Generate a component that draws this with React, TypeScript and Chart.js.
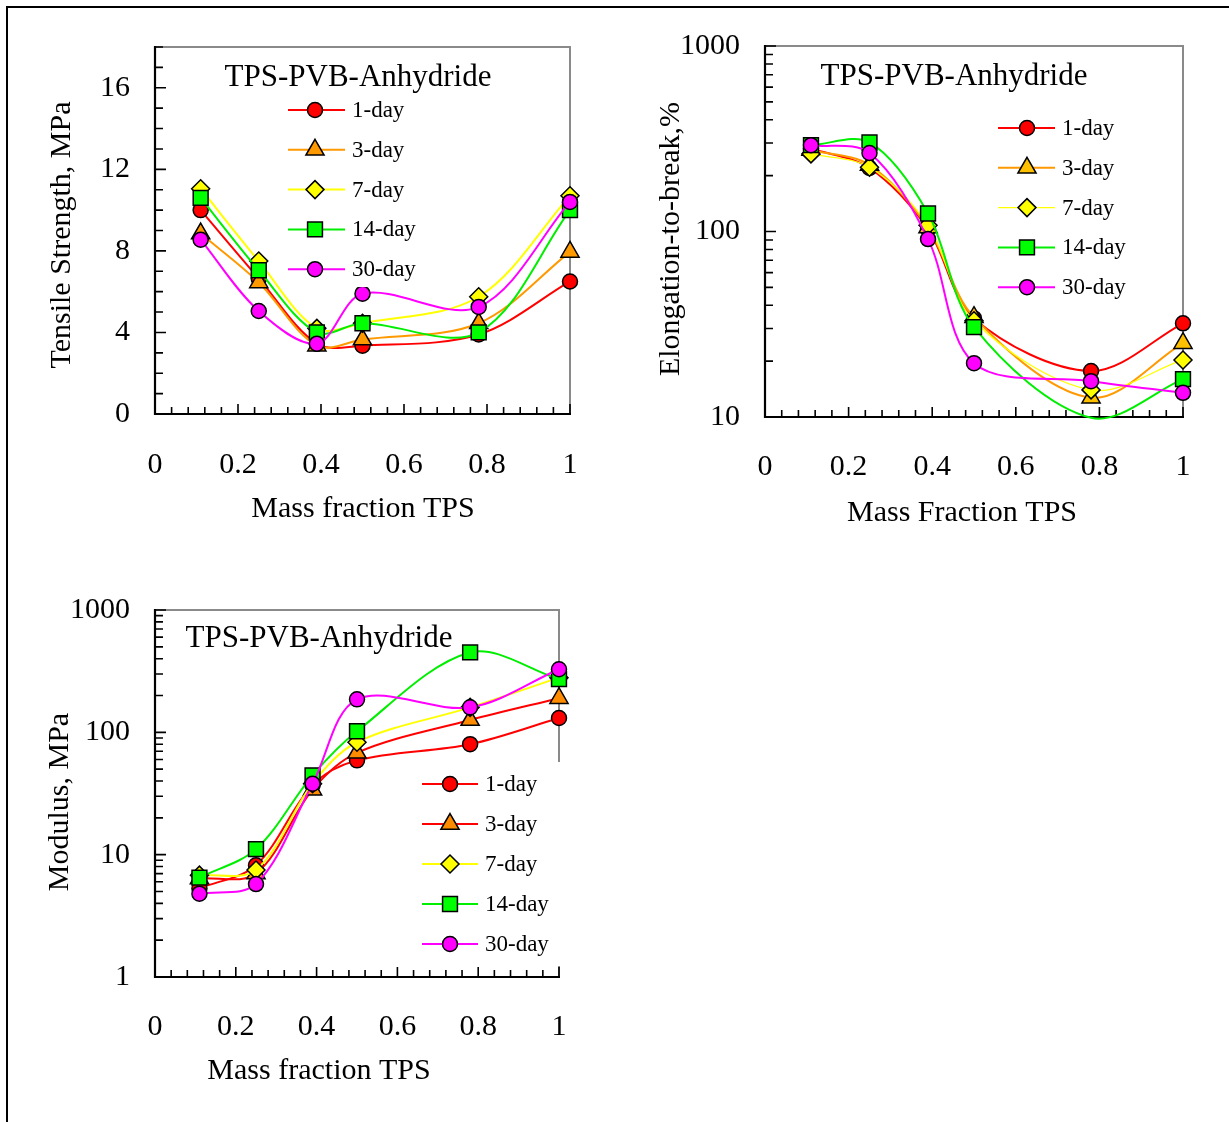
import React, { useEffect, useRef } from 'react';
import { Chart, registerables } from 'chart.js';

Chart.register(...registerables);

// ---- data -----------------------------------------------------------------
const MASS_FRACTION = [0.11, 0.25, 0.39, 0.5, 0.78, 1.0];
const SERIES_LABELS = ['1-day', '3-day', '7-day', '14-day', '30-day'];
const X_TICK_STEP = 0.2;
const X_MINOR_DIVISIONS = 25; // minor tick every 0.04
const LOG_TICK_LABELS = [1, 10, 100, 1000];

// Tensile strength, MPa
const TENSILE_1D = [10.0, 6.65, 3.45, 3.35, 3.9, 6.5];
const TENSILE_3D = [8.85, 6.45, 3.35, 3.65, 4.45, 7.95];
const TENSILE_7D = [11.05, 7.5, 4.2, 4.45, 5.75, 10.7];
const TENSILE_14D = [10.6, 7.05, 4.0, 4.45, 4.0, 10.0];
const TENSILE_30D = [8.55, 5.05, 3.45, 5.9, 5.25, 10.4];

// Elongation-to-break, %
const ELONG_1D = [280, 220, 103, 34, 17.7, 32];
const ELONG_3D = [275, 228, 105, 34.5, 12.7, 25];
const ELONG_7D = [262, 222, 108, 33, 14.0, 20.3];
const ELONG_14D = [292, 302, 125, 30.5, 9.9, 16];
const ELONG_30D = [292, 265, 91, 19.5, 15.6, 13.5];

// Modulus, MPa
const MODULUS_1D = [5.3, 8.2, 37, 59, 80, 131];
const MODULUS_3D = [6.4, 7.0, 34, 68, 126, 190];
const MODULUS_7D = [6.8, 7.5, 38, 83, 160, 280];
const MODULUS_14D = [6.5, 11.1, 44.5, 102, 450, 272];
const MODULUS_30D = [4.8, 5.75, 38, 186, 160, 328];

// ---- styling ----------------------------------------------------------------
const FONT = "'Liberation Serif', 'Times New Roman', serif";
const MARKER_STYLES = ['circle', 'triangle', 'rectRot', 'rect', 'circle'];
const MARKER_RADII = [7.5, 10.5, 9, 10.5, 7.5];

type Box = { left: number; top: number; width: number; height: number };
type Area = { left: number; top: number; right: number; bottom: number };

interface PanelSpec {
  box: Box; // canvas placement on the page
  area: Area; // plot area on the page
  logY: boolean;
  yMin: number;
  yMax: number;
  yStep: number;
  yMinorStep: number;
  series: number[][];
  lineColors: string[];
  fillColors: string[];
  lineWidths: number[];
  title: { text: string; x: number; y: number };
  legend: { x0: number; x1: number; mx: number; tx: number; y0: number; dy: number; cover?: Box };
  xTitle: { text: string; x: number; y: number };
  yTitle: { text: string; x: number; y: number };
  xTickPad: number;
}

const PANELS: PanelSpec[] = [
  {
    box: { left: 0, top: 0, width: 610, height: 560 },
    area: { left: 155, top: 47, right: 570, bottom: 414 },
    logY: false,
    yMin: 0,
    yMax: 18,
    yStep: 4,
    yMinorStep: 1,
    series: [TENSILE_1D, TENSILE_3D, TENSILE_7D, TENSILE_14D, TENSILE_30D],
    lineColors: ['#ff0000', '#ff9900', '#ffff00', '#00ee00', '#ff00ff'],
    fillColors: ['#ff0000', '#ff9900', '#ffff00', '#00ff00', '#ff00ff'],
    lineWidths: [2, 2, 2, 2, 2],
    title: { text: 'TPS-PVB-Anhydride', x: 358, y: 78 },
    legend: { x0: 288, x1: 345, mx: 315, tx: 352, y0: 110, dy: 39.8, cover: { left: 282, top: 94, width: 130, height: 193 } },
    xTitle: { text: 'Mass fraction TPS', x: 363, y: 509 },
    yTitle: { text: 'Tensile Strength, MPa', x: 62, y: 235 },
    xTickPad: 31,
  },
  {
    box: { left: 610, top: 0, width: 619, height: 560 },
    area: { left: 765, top: 46, right: 1183, bottom: 417 },
    logY: true,
    yMin: 10,
    yMax: 1000,
    yStep: 10,
    yMinorStep: 1,
    series: [ELONG_1D, ELONG_3D, ELONG_7D, ELONG_14D, ELONG_30D],
    lineColors: ['#ff0000', '#ff9900', '#ffff00', '#00ee00', '#ff00ff'],
    fillColors: ['#ff0000', '#ffc000', '#ffff00', '#00ff00', '#ff00ff'],
    lineWidths: [2, 2, 1.3, 2, 2],
    title: { text: 'TPS-PVB-Anhydride', x: 954, y: 77 },
    legend: { x0: 998, x1: 1055, mx: 1027, tx: 1062, y0: 128, dy: 39.8 },
    xTitle: { text: 'Mass Fraction TPS', x: 962, y: 513 },
    yTitle: { text: 'Elongation-to-break,%', x: 671, y: 239 },
    xTickPad: 30,
  },
  {
    box: { left: 0, top: 560, width: 610, height: 562 },
    area: { left: 155, top: 610, right: 559, bottom: 977 },
    logY: true,
    yMin: 1,
    yMax: 1000,
    yStep: 10,
    yMinorStep: 1,
    series: [MODULUS_1D, MODULUS_3D, MODULUS_7D, MODULUS_14D, MODULUS_30D],
    lineColors: ['#ff0000', '#ff0000', '#ffff00', '#00ee00', '#ff00ff'],
    fillColors: ['#ff0000', '#ff8c00', '#ffff00', '#00ff00', '#ff00ff'],
    lineWidths: [2, 2, 2, 2, 2],
    title: { text: 'TPS-PVB-Anhydride', x: 319, y: 639 },
    legend: { x0: 422, x1: 478, mx: 450, tx: 485, y0: 784, dy: 40, cover: { left: 415, top: 762, width: 152, height: 204 } },
    xTitle: { text: 'Mass fraction TPS', x: 319, y: 1071 },
    yTitle: { text: 'Modulus, MPa', x: 60, y: 802 },
    xTickPad: 30,
  },
];

// ---- drawing helpers ---------------------------------------------------------
function markerPath(ctx: CanvasRenderingContext2D, style: string, x: number, y: number, r: number) {
  ctx.beginPath();
  if (style === 'circle') {
    ctx.arc(x, y, r, 0, Math.PI * 2);
  } else if (style === 'triangle') {
    ctx.moveTo(x, y - r);
    ctx.lineTo(x + r * Math.sin((2 * Math.PI) / 3), y + r * 0.5);
    ctx.lineTo(x - r * Math.sin((2 * Math.PI) / 3), y + r * 0.5);
  } else if (style === 'rectRot') {
    ctx.moveTo(x - r, y);
    ctx.lineTo(x, y - r);
    ctx.lineTo(x + r, y);
    ctx.lineTo(x, y + r);
  } else {
    const s = Math.SQRT1_2 * r;
    ctx.rect(x - s, y - s, 2 * s, 2 * s);
  }
  ctx.closePath();
}

function yTickValues(p: PanelSpec): { v: number; major: boolean }[] {
  const out: { v: number; major: boolean }[] = [];
  if (p.logY) {
    const e0 = Math.round(Math.log10(p.yMin));
    const e1 = Math.round(Math.log10(p.yMax));
    for (let e = e0; e < e1; e++) {
      for (let m = 1; m <= 9; m++) out.push({ v: m * Math.pow(10, e), major: m === 1 });
    }
    out.push({ v: p.yMax, major: true });
  } else {
    const n = Math.round((p.yMax - p.yMin) / p.yMinorStep);
    const every = Math.round(p.yStep / p.yMinorStep);
    for (let k = 0; k <= n; k++) out.push({ v: p.yMin + k * p.yMinorStep, major: k % every === 0 });
  }
  return out;
}

function makeDecor(p: PanelSpec) {
  const ox = p.box.left;
  const oy = p.box.top;
  return {
    id: 'panelDecor',
    beforeDatasetsDraw(chart: any) {
      const { ctx, chartArea: a, scales } = chart;
      ctx.save();
      // top and right frame
      ctx.strokeStyle = '#8a8a8a';
      ctx.lineWidth = 2;
      ctx.beginPath();
      ctx.moveTo(a.left, a.top);
      ctx.lineTo(a.right, a.top);
      ctx.lineTo(a.right, a.bottom);
      ctx.stroke();
      // inward tick marks
      ctx.strokeStyle = '#000';
      ctx.lineWidth = 1.6;
      ctx.beginPath();
      for (let k = 0; k <= X_MINOR_DIVISIONS; k++) {
        const px = scales.x.getPixelForValue(k / X_MINOR_DIVISIONS);
        const major = k % Math.round(X_MINOR_DIVISIONS * X_TICK_STEP) === 0;
        ctx.moveTo(px, a.bottom);
        ctx.lineTo(px, a.bottom - (major ? 10 : 7));
      }
      for (const t of yTickValues(p)) {
        const py = scales.y.getPixelForValue(t.v);
        ctx.moveTo(a.left, py);
        ctx.lineTo(a.left + (t.major ? 11 : 8), py);
      }
      ctx.stroke();
      // value axes
      ctx.lineWidth = 2.2;
      ctx.beginPath();
      ctx.moveTo(a.left, a.top - 1);
      ctx.lineTo(a.left, a.bottom + 1);
      ctx.moveTo(a.left - 1, a.bottom);
      ctx.lineTo(a.right + 1, a.bottom);
      ctx.stroke();
      ctx.restore();
    },
    afterDatasetsDraw(chart: any) {
      const { ctx } = chart;
      const lg = p.legend;
      ctx.save();
      if (lg.cover) {
        ctx.fillStyle = '#ffffff';
        ctx.fillRect(lg.cover.left - ox, lg.cover.top - oy, lg.cover.width, lg.cover.height);
      }
      chart.data.datasets.forEach((ds: any, i: number) => {
        const y = lg.y0 + i * lg.dy - oy;
        ctx.strokeStyle = p.lineColors[i];
        ctx.lineWidth = p.lineWidths[i];
        ctx.beginPath();
        ctx.moveTo(lg.x0 - ox, y);
        ctx.lineTo(lg.x1 - ox, y);
        ctx.stroke();
        markerPath(ctx, MARKER_STYLES[i], lg.mx - ox, y, MARKER_RADII[i]);
        ctx.fillStyle = p.fillColors[i];
        ctx.fill();
        ctx.strokeStyle = '#000';
        ctx.lineWidth = 1.5;
        ctx.stroke();
        ctx.fillStyle = '#000';
        ctx.font = `23px ${FONT}`;
        ctx.textAlign = 'left';
        ctx.textBaseline = 'middle';
        ctx.fillText(ds.label, lg.tx - ox, y + 1);
      });
      ctx.fillStyle = '#000';
      ctx.textAlign = 'center';
      ctx.textBaseline = 'middle';
      ctx.font = `31px ${FONT}`;
      ctx.fillText(p.title.text, p.title.x - ox, p.title.y - oy);
      ctx.font = `30px ${FONT}`;
      ctx.fillText(p.xTitle.text, p.xTitle.x - ox, p.xTitle.y - oy);
      ctx.translate(p.yTitle.x - ox, p.yTitle.y - oy);
      ctx.rotate(-Math.PI / 2);
      ctx.fillText(p.yTitle.text, 0, 0);
      ctx.restore();
    },
  };
}

function isDecade(v: number) {
  return LOG_TICK_LABELS.some((d) => Math.abs(v - d) < 1e-9 * d);
}

function buildConfig(p: PanelSpec): any {
  const tickFont = { family: FONT, size: 30, lineHeight: 1.2 };
  const xTickFont = { family: FONT, size: 30, lineHeight: 1.33 };
  const yAxisWidth = p.area.left - p.box.left;
  const xAxisHeight = p.box.top + p.box.height - p.area.bottom;
  return {
    type: 'line',
    data: {
      datasets: SERIES_LABELS.map((label, i) => ({
        label,
        data: MASS_FRACTION.map((x, j) => ({ x, y: p.series[i][j] })),
        borderColor: p.lineColors[i],
        backgroundColor: p.fillColors[i],
        borderWidth: p.lineWidths[i],
        pointStyle: MARKER_STYLES[i],
        // markers for values below the axis floor are not drawn
        pointRadius: (c: any) => (c.raw && c.raw.y < p.yMin ? 0 : MARKER_RADII[i]),
        pointBackgroundColor: p.fillColors[i],
        pointBorderColor: '#000',
        pointBorderWidth: 1.5,
        tension: 0.33,
        fill: false,
        clip: false,
        order: SERIES_LABELS.length - i,
      })),
    },
    options: {
      animation: false,
      responsive: false,
      events: [],
      layout: {
        padding: {
          top: p.area.top - p.box.top,
          right: p.box.left + p.box.width - p.area.right,
          left: 0,
          bottom: 0,
        },
      },
      plugins: { legend: { display: false }, tooltip: { enabled: false }, title: { display: false } },
      scales: {
        x: {
          type: 'linear',
          min: 0,
          max: 1,
          grid: { display: false, drawTicks: false },
          border: { display: false },
          ticks: {
            stepSize: X_TICK_STEP,
            font: xTickFont,
            color: '#000',
            padding: p.xTickPad,
            maxRotation: 0,
            autoSkip: false,
            callback: (v: any) => String(Math.round(Number(v) * 10) / 10),
          },
          afterFit: (s: any) => {
            s.height = xAxisHeight;
          },
        },
        y: p.logY
          ? {
              type: 'logarithmic',
              min: p.yMin,
              max: p.yMax,
              grid: { display: false, drawTicks: false },
              border: { display: false },
              ticks: {
                font: tickFont,
                color: '#000',
                padding: 25,
                autoSkip: false,
                callback: (v: any) => (isDecade(Number(v)) ? String(Number(v)) : ''),
              },
              afterFit: (s: any) => {
                s.width = yAxisWidth;
              },
            }
          : {
              type: 'linear',
              min: p.yMin,
              max: p.yMax,
              grid: { display: false, drawTicks: false },
              border: { display: false },
              ticks: { stepSize: p.yStep, includeBounds: false, font: tickFont, color: '#000', padding: 25, autoSkip: false },
              afterFit: (s: any) => {
                s.width = yAxisWidth;
              },
            },
      },
    },
    plugins: [makeDecor(p)],
  };
}

function PanelChart({ spec }: { spec: PanelSpec }) {
  const ref = useRef<HTMLCanvasElement | null>(null);
  useEffect(() => {
    if (!ref.current) return;
    const chart = new Chart(ref.current, buildConfig(spec));
    return () => chart.destroy();
  }, [spec]);
  return (
    <canvas
      ref={ref}
      width={spec.box.width}
      height={spec.box.height}
      style={{
        position: 'absolute',
        left: spec.box.left,
        top: spec.box.top,
        width: spec.box.width,
        height: spec.box.height,
      }}
    />
  );
}

export default function App() {
  return (
    <div
      style={{
        position: 'absolute',
        left: 0,
        top: 0,
        width: 1229,
        height: 1122,
        background: '#fff',
        overflow: 'hidden',
      }}
    >
      <div
        style={{
          position: 'absolute',
          left: 6,
          top: 6,
          width: 1240,
          height: 1130,
          borderTop: '2px solid #000',
          borderLeft: '2px solid #000',
        }}
      />
      {PANELS.map((p, i) => (
        <PanelChart key={i} spec={p} />
      ))}
    </div>
  );
}
